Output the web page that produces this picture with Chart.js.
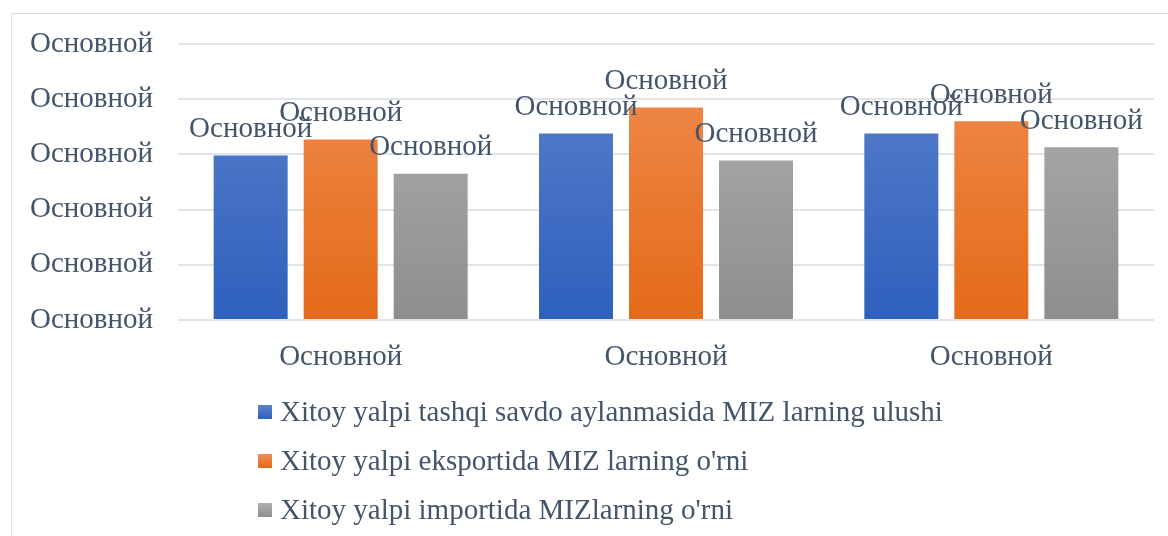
<!DOCTYPE html>
<html>
<head>
<meta charset="utf-8">
<script src="https://cdn.jsdelivr.net/npm/chart.js@4"></script>
<style>
  html, body { margin: 0; padding: 0; background: #fff; }
  #wrap { position: relative; width: 1168px; height: 536px; overflow: hidden; }
  #frame { position: absolute; left: 11px; top: 13px; width: 1200px; height: 600px; border: 1px solid #dadee4; box-sizing: border-box; }
  #c { position: absolute; left: 0; top: 0; }
</style>
</head>
<body>
<div id="wrap">
  <div id="frame"></div>
  <canvas id="c" width="1168" height="536"></canvas>
</div>
<script>
const categories = ["Основной", "Основной", "Основной"];
const yTickLabels = ["Основной", "Основной", "Основной", "Основной", "Основной", "Основной"];
const pointLabels = ["Основной", "Основной", "Основной"];

const seriesNames = [
    "Xitoy yalpi tashqi savdo aylanmasida MIZ larning ulushi",
    "Xitoy yalpi eksportida MIZ larning o'rni",
    "Xitoy yalpi importida MIZlarning o'rni"
];
const turnoverShare = [29.8, 33.8, 33.8];
const exportShare = [32.7, 38.5, 36.0];
const importShare = [26.5, 28.9, 31.3];

const textColor = "#44546a";
const fontFamily = "'Liberation Serif', 'Times New Roman', serif";
const fontSize = 29;

const gradStops = [
    ["#5d82cb", "#2e60bd"],
    ["#f18d52", "#e36a18"],
    ["#b1b1b1", "#8e8e8e"]
];

const makeGradient = (idx) => (context) => {
    const chart = context.chart;
    const area = chart.chartArea;
    if (!area) return gradStops[idx][1];
    const g = chart.ctx.createLinearGradient(0, area.top, 0, area.bottom);
    g.addColorStop(0, gradStops[idx][0]);
    g.addColorStop(1, gradStops[idx][1]);
    return g;
};

// labels above each bar
const barLabels = {
    id: "barLabels",
    afterDatasetsDraw(chart) {
        const ctx = chart.ctx;
        ctx.save();
        ctx.font = fontSize + "px " + fontFamily;
        ctx.fillStyle = textColor;
        ctx.textAlign = "center";
        ctx.textBaseline = "middle";
        chart.data.datasets.forEach((ds, i) => {
            chart.getDatasetMeta(i).data.forEach((bar, j) => {
                ctx.fillText(pointLabels[j], bar.x, bar.y - 26);
            });
        });
        ctx.restore();
    }
};

// vertical legend under the axis
const columnLegend = {
    id: "columnLegend",
    afterDraw(chart) {
        const ctx = chart.ctx;
        ctx.save();
        ctx.font = fontSize + "px " + fontFamily;
        ctx.textBaseline = "middle";
        seriesNames.forEach((name, i) => {
            const y = 412 + i * 49;
            const g = ctx.createLinearGradient(0, y - 7, 0, y + 7);
            g.addColorStop(0, gradStops[i][0]);
            g.addColorStop(1, gradStops[i][1]);
            ctx.fillStyle = g;
            ctx.fillRect(258, y - 7, 14, 14);
            ctx.fillStyle = textColor;
            ctx.fillText(name, 280, y + 1);
        });
        ctx.restore();
    }
};

const chart = new Chart(document.getElementById("c"), {
    type: "bar",
    data: {
        labels: categories,
        datasets: [
            { label: seriesNames[0], data: turnoverShare, backgroundColor: makeGradient(0) },
            { label: seriesNames[1], data: exportShare, backgroundColor: makeGradient(1) },
            { label: seriesNames[2], data: importShare, backgroundColor: makeGradient(2) }
        ]
    },
    options: {
        responsive: false,
        animation: false,
        categoryPercentage: 0.83,
        barPercentage: 0.822,
        layout: { padding: { top: 44, right: 14, bottom: 156, left: 0 } },
        plugins: {
            legend: { display: false },
            tooltip: { enabled: false }
        },
        scales: {
            x: {
                grid: { display: false },
                border: { display: false },
                ticks: {
                    color: textColor,
                    font: { family: fontFamily, size: fontSize },
                    padding: 12
                },
                afterFit(scale) { scale.height = 60; }
            },
            y: {
                min: 0,
                max: 50,
                grid: { color: "#e1e4e9", lineWidth: 2, drawTicks: false },
                border: { display: false },
                ticks: {
                    stepSize: 10,
                    color: textColor,
                    font: { family: fontFamily, size: fontSize },
                    padding: 25,
                    callback: (value, index) => yTickLabels[index]
                },
                afterFit(scale) { scale.width = 178; }
            }
        }
    },
    plugins: [barLabels, columnLegend]
});
</script>
</body>
</html>
